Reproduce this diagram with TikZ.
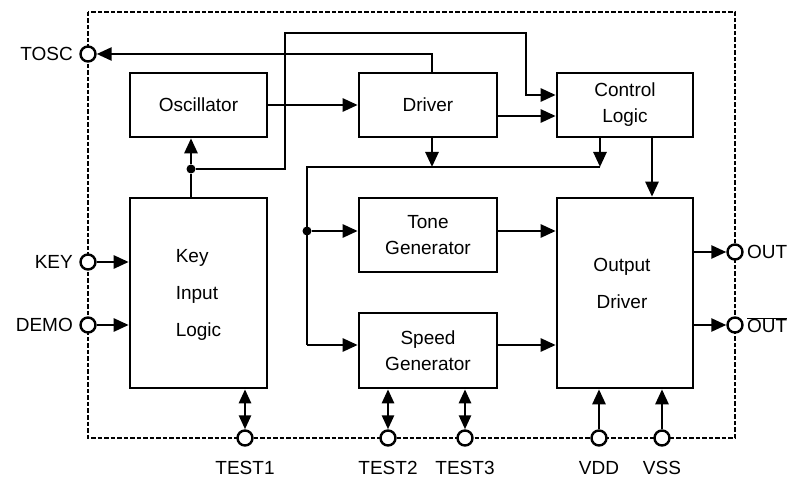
\documentclass[tikz,border=0pt]{standalone}
\usepackage{fontspec}
\setmainfont{Liberation Sans}
\usetikzlibrary{arrows.meta}
\begin{document}
\begin{tikzpicture}[x=1pt,y=-1pt,
  blk/.style={draw,line width=2.6pt,inner sep=0pt,font=\fontsize{19}{26}\selectfont,align=center},
  txt/.style={inner sep=0pt,font=\fontsize{19}{26}\selectfont,align=center},
  lbl/.style={inner sep=0pt,font=\fontsize{19}{20}\selectfont},
  pin/.style={circle,draw,line width=2.4pt,fill=white,minimum size=15pt,inner sep=0pt},
  dot/.style={circle,fill=black,minimum size=9pt,inner sep=0pt},
  wire/.style={line width=2.6pt},
  arr/.style={wire,-{Triangle[length=15pt,width=13pt]}},
  darr/.style={wire,{Triangle[length=14pt,width=12pt]}-{Triangle[length=14pt,width=12pt]}},
  border/.style={line width=2.2pt,dash pattern=on 4.5pt off 2pt}]
\useasboundingbox (0,0) rectangle (793,478);

% border
\draw[border] (88,12) rectangle (735,438);

% blocks
\node[blk,minimum width=137pt,minimum height=64pt] (osc) at (198.5,105) {Oscillator};
\node[blk,minimum width=138pt,minimum height=64pt] (drv) at (428,105) {Driver};
\node[blk,minimum width=136pt,minimum height=64pt] (ctl) at (625,105) {Control\\Logic};
\node[blk,minimum width=137pt,minimum height=190pt] (kil) at (198.5,293) {};
\node[txt,align=left,font=\fontsize{19}{37}\selectfont] (kilt) at (198.5,295) {Key\\Input\\Logic};
\node[blk,minimum width=138pt,minimum height=74pt] (tone) at (428,235) {Tone\\Generator};
\node[blk,minimum width=138pt,minimum height=75pt] (spd) at (428,350.5) {Speed\\Generator};
\node[blk,minimum width=136pt,minimum height=190pt] (od) at (625,293) {};
\node[txt,font=\fontsize{19}{37}\selectfont] (odt) at (622,283.5) {Output\\Driver};

% pins
\node[pin] (tosc) at (88,54) {};
\node[pin] (key) at (88,262) {};
\node[pin] (demo) at (88,325) {};
\node[pin] (out) at (735,252) {};
\node[pin] (outb) at (735,325) {};
\node[pin] (t1) at (245,438) {};
\node[pin] (t2) at (388,438) {};
\node[pin] (t3) at (465,438) {};
\node[pin] (vdd) at (599,438) {};
\node[pin] (vss) at (662,438) {};

% pin labels
\node[lbl,anchor=east] (ltosc) at (73,54) {TOSC};
\node[lbl,anchor=east] (lkey) at (73,262) {KEY};
\node[lbl,anchor=east] (ldemo) at (73,325) {DEMO};
\node[lbl,anchor=west] (lout) at (747,252) {OUT};
\node[lbl,anchor=west] (loutb) at (747,325) {$\overline{\mbox{OUT}}$};
\node[lbl,anchor=base] (lt1) at (245,474) {TEST1};
\node[lbl,anchor=base] (lt2) at (388,474) {TEST2};
\node[lbl,anchor=base] (lt3) at (465,474) {TEST3};
\node[lbl,anchor=base] (lvdd) at (599,474) {VDD};
\node[lbl,anchor=base] (lvss) at (662,474) {VSS};

% junctions and bends
\node[dot] (j1) at (191,169) {};
\node[dot] (j2) at (307,231) {};
\coordinate (b1) at (285,33);
\coordinate (b2) at (526,95);
\coordinate (bus) at (307,167);
\coordinate (sb) at (307,345);
\coordinate (d1) at (497,116);
\coordinate (tdrv) at (432,73);
\coordinate (bdrv) at (432,137);
\coordinate (bctl1) at (600,137);
\coordinate (bctl2) at (652,137);

% connectors
\draw[arr] (tdrv) |- (tosc);
\draw[arr] (osc.east) -- (drv.west);
\draw[wire] (j1 |- kil.north) -- (j1);
\draw[arr] (j1) -- (j1 |- osc.south);
\draw[arr] (j1) -| (b1) -| (b2) -- (b2 -| ctl.west);
\draw[arr] (d1) -- (d1 -| ctl.west);
\draw[arr] (bdrv) -- (bdrv |- bus);
\draw[arr] (bctl1) -- (bctl1 |- bus);
\draw[wire] (bctl1 |- bus) -- (bus) -- (sb);
\draw[arr] (sb) -- (sb -| spd.west);
\draw[arr] (j2) -- (j2 -| tone.west);
\draw[arr] (tone.east |- j2) -- (od.west |- j2);
\draw[arr] (spd.east |- sb) -- (od.west |- sb);
\draw[arr] (bctl2) -- (bctl2 |- od.north);
\draw[arr] (key) -- (key -| kil.west);
\draw[arr] (demo) -- (demo -| kil.west);
\draw[arr] (od.east |- out) -- (out);
\draw[arr] (od.east |- outb) -- (outb);
\draw[darr] (t1 |- kil.south) -- (t1);
\draw[darr] (t2 |- spd.south) -- (t2);
\draw[darr] (t3 |- spd.south) -- (t3);
\draw[arr] (vdd) -- (vdd |- od.south);
\draw[arr] (vss) -- (vss |- od.south);
\end{tikzpicture}
\end{document}
